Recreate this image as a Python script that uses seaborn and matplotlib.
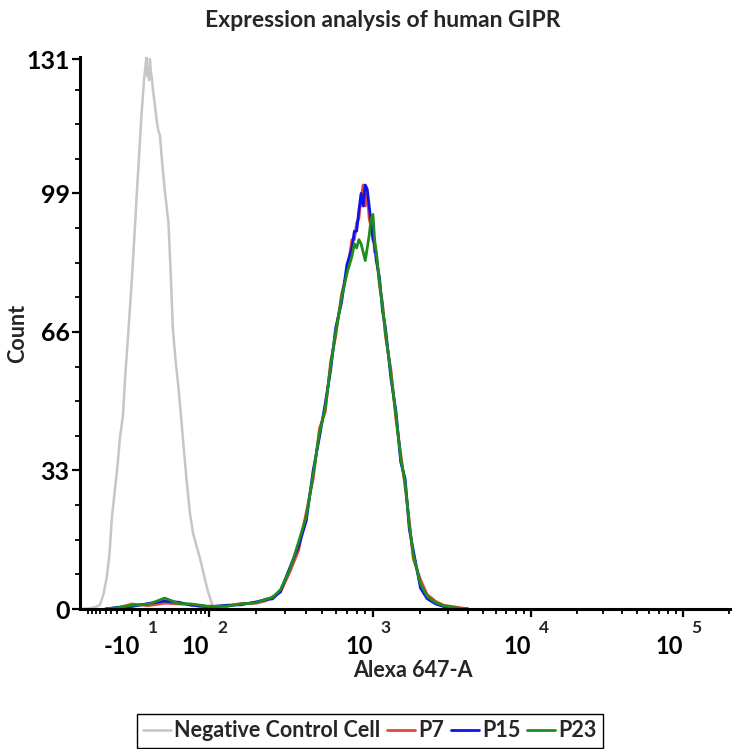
import numpy as np
import pandas as pd
import matplotlib
matplotlib.use("Agg")
import matplotlib.pyplot as plt
import matplotlib.transforms as mtransforms
import seaborn as sns

# ====== DỮ LIỆU ======
# negative control histogram (Alexa 647-A value, count)
CTRL_X = [-120, -94, -80, -71, -64, -58, -53, -49, -45, -40, -36, -32, -29, -25,
          -20, -17, -14, -11, -8, -5, -3, -2, -1, 0, 1, 2, 3, 4, 6, 8, 10, 12, 14,
          17, 20, 25, 28, 31, 35, 39, 43, 47, 52, 58, 64, 71, 76, 82, 90, 98, 107, 130]
CTRL_COUNT = [0, 0.2, 0.5, 1, 3.5, 7.4, 13, 21.6, 27, 34, 41.3, 46, 54.9, 65,
              78.6, 88, 98.3, 108, 118, 126, 130, 131.5, 127, 129, 126, 131, 128, 127, 123, 120, 116.6, 114, 113,
              106, 100, 92, 80, 66.7, 59, 53, 46, 39, 31, 23, 18, 15, 13, 10.5, 7, 4, 0.3, 0]

# sample histograms share one grid
SAMPLE_X = [-60, -40, -20, 0, 20, 40, 60, 80, 100, 130, 160, 200, 230, 250, 280, 320,
            360, 400, 440, 480, 520, 560, 600, 650, 700, 750, 775, 800, 825, 850, 875,
            900, 925, 950, 975, 1000, 1025, 1050, 1100, 1150, 1200, 1300, 1400, 1500,
            1600, 1700, 1800, 2000, 2200, 2500, 2800, 3300, 4000]
P7 = [0, 0.2, 1.2, 0.8, 1.4, 1.2, 1.1, 0.5, 0.7, 0.6, 1.3, 1.4, 2.0, 2.9, 4.0, 9,
      14, 23, 31, 43, 47, 59, 65, 75, 80, 88, 88, 92, 93, 98, 101,
      96, 99, 93, 91, 90, 85, 85, 77, 73, 65, 57, 45, 37,
      29, 21, 12, 7, 3.5, 1.8, 0.9, 0.5, 0]
P15 = [0, 0.4, 0.6, 1.3, 1.9, 1.6, 0.9, 0.8, 0.5, 0.9, 1.0, 1.7, 2.3, 2.4, 4.2, 10,
       15, 21, 33, 41, 49, 57, 67, 73, 82, 86, 90, 90, 95, 99, 96,
       101, 100, 96, 92, 88, 87, 83, 79, 71, 67, 55, 47, 35,
       31, 19, 14, 5, 2.5, 1.2, 0.6, 0.2, 0]
P23 = [0, 0.3, 0.9, 1.1, 2.6, 1.3, 1.2, 0.9, 0.6, 0.7, 1.2, 1.5, 2.4, 2.7, 4.6, 9.5,
       16, 22, 32, 42, 48, 58, 66, 74, 80, 84, 87, 86, 88, 87, 85,
       83, 86, 89, 93, 94, 88, 85, 78, 72, 66, 56, 46, 36,
       30, 20, 13, 6, 3, 1.5, 0.8, 0.3, 0]

SERIES = ["Negative Control Cell", "P7", "P15", "P23"]
COLORS = ["#c6c6c6", "#e0483c", "#1010e8", "#1e8c1e"]

Y_TICKS = [0, 33, 66, 99, 131]
X_TICKS = [-10, 100, 1000, 10000, 100000]
X_TICK_BASES = ["-10", "10", "10", "10", "10"]
X_TICK_EXPS = ["1", "2", "3", "4", "5"]

# ====== THANG BIEXPONENTIAL ======
# knots of the display (asinh space -> screen units)
KNOT_VALUES = np.array([-1000, -10, 100, 1000, 1e4, 1e5, 1e6])
KNOT_POS = np.array([-6.6, 140, 209, 373, 531, 683, 835])
KNOT_U = np.arcsinh(KNOT_VALUES / 50.0)


def fwd(x):
    return np.interp(np.arcsinh(np.asarray(x, dtype=float) / 50.0), KNOT_U, KNOT_POS)


def inv(p):
    return 50.0 * np.sinh(np.interp(np.asarray(p, dtype=float), KNOT_POS, KNOT_U))


# ====== VẼ ======
sns.set_style("ticks")
plt.rcParams["font.family"] = ["Lato", "DejaVu Sans"]
plt.rcParams["font.weight"] = "bold"

fig = plt.figure(figsize=(7.32, 7.49), dpi=100)
ax = fig.add_axes([0.1093, 0.1869, 0.888, 0.737])
ax.set_xscale("function", functions=(fwd, inv))

ctrl = pd.DataFrame({"x": CTRL_X, "count": CTRL_COUNT})
sns.lineplot(data=ctrl, x="x", y="count", color=COLORS[0], lw=1.8,
             label=SERIES[0], ax=ax, sort=False)
for name, vals, col in zip(SERIES[1:], [P7, P15, P23], COLORS[1:]):
    df = pd.DataFrame({"x": SAMPLE_X, "count": vals})
    sns.lineplot(data=df, x="x", y="count", color=col, lw=2.0,
                 label=name, ax=ax, sort=False)

ax.set_xlim(-122, 2.04e5)
ax.set_ylim(0, 131.5)

# x tick labels: base number just right of the tick, exponent raised beside it
ax.set_xticks(X_TICKS)
ax.set_xticklabels(X_TICK_BASES, fontsize=17, fontweight="bold", ha="right")
shift = mtransforms.ScaledTranslation(6 / 100, 0, fig.dpi_scale_trans)
for lab in ax.get_xticklabels():
    lab.set_transform(lab.get_transform() + shift)
exp_tr = mtransforms.blended_transform_factory(ax.transData, ax.transAxes) + \
    mtransforms.ScaledTranslation(8 / 100, -19 / 100, fig.dpi_scale_trans)
for v, e in zip(X_TICKS, X_TICK_EXPS):
    ax.text(v, 0, e, transform=exp_tr, fontsize=12.5, fontweight="bold",
            ha="left", va="center")

minor_x = [-v for v in range(20, 101, 10)] + list(range(10, 100, 10)) + [0]
minor_x += [m * 10 ** k for k in range(2, 6) for m in range(2, 10) if m * 10 ** k < 2.1e5]
ax.set_xticks(minor_x, minor=True)

ax.set_yticks(Y_TICKS)
ax.set_yticklabels([str(v) for v in Y_TICKS], fontsize=18, fontweight="bold")
ax.set_yticks(np.arange(0, 131, 8.25), minor=True)

ax.tick_params(axis="both", which="major", length=6, width=1.6, colors="black")
ax.tick_params(axis="both", which="minor", length=3.5, width=1.3, colors="black")
ax.tick_params(axis="x", which="major", pad=13)
ax.tick_params(axis="y", which="major", pad=1.5)

for side in ["top", "right"]:
    ax.spines[side].set_visible(False)
for side in ["left", "bottom"]:
    ax.spines[side].set_linewidth(2.2)
    ax.spines[side].set_color("black")

ax.set_xlabel("Alexa 647-A", fontsize=15.5, fontweight="bold")
ax.set_ylabel("Count", fontsize=15.5, fontweight="bold")
ax.xaxis.set_label_coords(0.512, -0.093)
ax.yaxis.set_label_coords(-0.08, 0.5)

fig.text(0.523, 0.973, "Expression analysis of human GIPR", ha="center", va="center",
         fontsize=16.5, fontweight="bold")

leg = ax.legend(loc="upper center", bbox_to_anchor=(0.505, 0.047),
                bbox_transform=fig.transFigure, ncol=4, fontsize=15.5,
                frameon=True, fancybox=False, framealpha=1, edgecolor="black",
                handlelength=1.3, handletextpad=0.15, columnspacing=0.3,
                borderpad=0.3, borderaxespad=0)
leg.get_frame().set_linewidth(1.0)

fig.savefig("out.png", dpi=100)
